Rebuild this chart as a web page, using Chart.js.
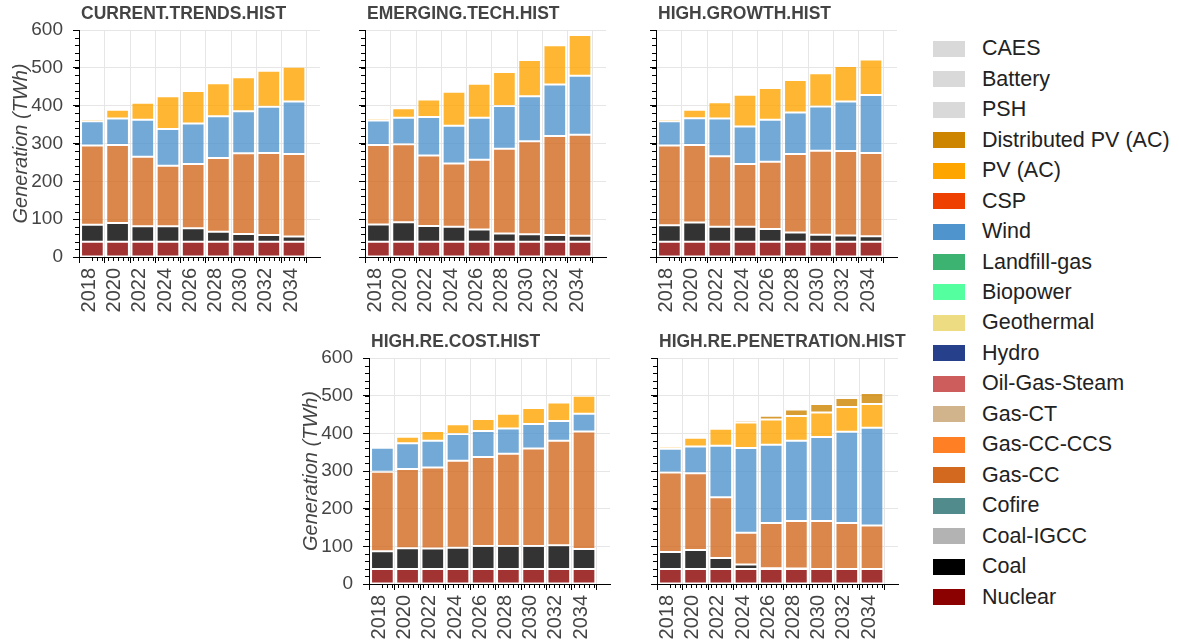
<!DOCTYPE html>
<html>
<head>
<meta charset="utf-8">
<script src="https://cdn.jsdelivr.net/npm/chart.js@4/dist/chart.umd.min.js"></script>
<style>
  body { margin: 0; background: #fff; width: 1179px; height: 642px; position: relative; overflow: hidden;
         font-family: "Liberation Sans", Arial, sans-serif; }
  canvas { position: absolute; }
  #legend { position: absolute; left: 933px; top: 33.5px; }
  .item { height: 30.47px; display: flex; align-items: center; font-size: 21.5px; color: #222; white-space: nowrap; }
  .sw { width: 32px; height: 16px; margin-right: 17px; }
</style>
</head>
<body>
<div id="legend"></div>
<script>
// years shown on every panel
const years = [2018, 2020, 2022, 2024, 2026, 2028, 2030, 2032, 2034];

// legend order (top to bottom) and colours
const techNames = ['CAES', 'Battery', 'PSH', 'Distributed PV (AC)', 'PV (AC)', 'CSP', 'Wind', 'Landfill-gas',
  'Biopower', 'Geothermal', 'Hydro', 'Oil-Gas-Steam', 'Gas-CT', 'Gas-CC-CCS', 'Gas-CC', 'Cofire', 'Coal-IGCC', 'Coal', 'Nuclear'];
const techColors = ['#d9d9d9', '#d9d9d9', '#d9d9d9', '#cd8500', '#ffa500', '#ee4000', '#4f94cd', '#3cb371',
  '#54ff9f', '#eedc82', '#27408b', '#cd5c5c', '#d2b48c', '#ff7f24', '#d2691e', '#528b8b', '#b3b3b3', '#000000', '#8b0000'];

// generation, TWh
const ctNuclear = [40, 40, 40, 40, 40, 40, 40, 40, 40];
const ctCoal    = [45, 50, 41, 41, 36, 27, 21, 18, 14];
const ctGasCC   = [210, 206, 184, 160, 170, 195, 213, 217, 218];
const ctWind    = [64, 70, 98, 97, 107, 110, 111, 122, 139];
const ctPV      = [6, 23, 45, 87, 86, 87, 90, 95, 92];

const etNuclear = [40, 40, 40, 40, 40, 40, 40, 40, 40];
const etCoal    = [46, 52, 42, 40, 33, 22, 20, 18, 16];
const etGasCC   = [210, 206, 186, 167, 184, 224, 246, 262, 267];
const etWind    = [65, 70, 102, 100, 111, 113, 119, 136, 156];
const etPV      = [6, 25, 46, 90, 90, 90, 96, 104, 108];

const hgNuclear = [40, 40, 40, 40, 40, 40, 40, 40, 40];
const hgCoal    = [44, 51, 40, 40, 34, 25, 19, 17, 15];
const hgGasCC   = [211, 205, 186, 166, 178, 207, 222, 223, 220];
const hgWind    = [64, 71, 100, 99, 111, 110, 117, 131, 153];
const hgPV      = [6, 22, 43, 84, 84, 86, 88, 94, 94];
const hgDistPV  = [0, 0, 0, 0, 0, 1, 2, 2, 2];

const rcNuclear = [40, 40, 40, 40, 40, 40, 40, 40, 40];
const rcCoal    = [47, 55, 54, 56, 61, 61, 61, 63, 53];
const rcGasCC   = [211, 210, 215, 231, 236, 245, 259, 277, 312];
const rcWind    = [64, 69, 71, 71, 69, 67, 65, 53, 47];
const rcPV      = [5, 17, 26, 26, 32, 39, 42, 49, 48];

const rpNuclear = [40, 40, 40, 40, 40, 40, 40, 40, 40];
const rpCoal    = [45, 50, 29, 12, 2, 1, 0, 0, 0];
const rpGasCC   = [211, 204, 161, 84, 120, 126, 127, 122, 115];
const rpWind    = [63, 71, 137, 225, 208, 213, 223, 242, 260];
const rpPV      = [6, 23, 45, 68, 67, 66, 65, 66, 63];
const rpDistPV  = [0, 1, 3, 6, 10, 17, 23, 24, 29];

const scenarios = [
  { title: 'CURRENT.TRENDS.HIST', series: { 'Nuclear': ctNuclear, 'Coal': ctCoal, 'Gas-CC': ctGasCC, 'Wind': ctWind, 'PV (AC)': ctPV } },
  { title: 'EMERGING.TECH.HIST', series: { 'Nuclear': etNuclear, 'Coal': etCoal, 'Gas-CC': etGasCC, 'Wind': etWind, 'PV (AC)': etPV } },
  { title: 'HIGH.GROWTH.HIST', series: { 'Nuclear': hgNuclear, 'Coal': hgCoal, 'Gas-CC': hgGasCC, 'Wind': hgWind, 'PV (AC)': hgPV, 'Distributed PV (AC)': hgDistPV } },
  { title: 'HIGH.RE.COST.HIST', series: { 'Nuclear': rcNuclear, 'Coal': rcCoal, 'Gas-CC': rcGasCC, 'Wind': rcWind, 'PV (AC)': rcPV } },
  { title: 'HIGH.RE.PENETRATION.HIST', series: { 'Nuclear': rpNuclear, 'Coal': rpCoal, 'Gas-CC': rpGasCC, 'Wind': rpWind, 'PV (AC)': rpPV, 'Distributed PV (AC)': rpDistPV } }
];

// where each panel's plot area sits on the page
const layout = [
  { left: 79,  top: 0,   padTop: 30, plotH: 227, xH: 63, yLabels: true },
  { left: 365, top: 0,   padTop: 30, plotH: 227, xH: 63, yLabels: false },
  { left: 656, top: 0,   padTop: 30, plotH: 227, xH: 63, yLabels: false },
  { left: 369, top: 320, padTop: 38, plotH: 226, xH: 58, yLabels: true },
  { left: 657, top: 320, padTop: 38, plotH: 226, xH: 58, yLabels: false }
];
const plotW = 241;
const padRight = 8;

const FONT = '"Liberation Sans", Arial, sans-serif';

const hexToRgba = (hex, a) => {
  const n = parseInt(hex.slice(1), 16);
  return `rgba(${(n >> 16) & 255},${(n >> 8) & 255},${n & 255},${a})`;
};
const colorOf = name => techColors[techNames.indexOf(name)];

// panel title at the left edge of the plot area
const panelTitle = {
  id: 'panelTitle',
  afterDraw(chart, args, opts) {
    const { ctx, chartArea } = chart;
    ctx.save();
    ctx.font = `bold 17.5px ${FONT}`;
    ctx.fillStyle = '#444';
    ctx.textBaseline = 'middle';
    ctx.fillText(opts.text, chartArea.left + 2, chartArea.top - 16);
    ctx.restore();
  }
};

// small minor ticks like the original plotting tool draws
const minorTicks = {
  id: 'minorTicks',
  afterDraw(chart) {
    const { ctx, chartArea: a, scales: { x, y } } = chart;
    ctx.save();
    ctx.strokeStyle = '#000';
    ctx.lineWidth = 1;
    ctx.beginPath();
    for (let i = 0; x.min + i * 0.4 <= x.max + 1e-6; i++) {
      const px = Math.round(x.getPixelForValue(x.min + i * 0.4)) + 0.5;
      ctx.moveTo(px, a.bottom);
      ctx.lineTo(px, a.bottom + 4);
    }
    for (let v = y.min; v <= y.max; v += 20) {
      const py = Math.round(y.getPixelForValue(v)) + 0.5;
      ctx.moveTo(a.left, py);
      ctx.lineTo(a.left - 4, py);
    }
    ctx.stroke();
    ctx.restore();
  }
};

scenarios.forEach((sc, idx) => {
  const L = layout[idx];
  const yW = L.yLabels ? 79 : 14;
  const W = yW + plotW + padRight;
  const H = L.padTop + L.plotH + L.xH;

  const canvas = document.createElement('canvas');
  canvas.width = W;
  canvas.height = H;
  canvas.style.left = (L.left - yW) + 'px';
  canvas.style.top = L.top + 'px';
  canvas.style.width = W + 'px';
  canvas.style.height = H + 'px';
  document.body.appendChild(canvas);

  // bottom of the stack first (reverse legend order)
  const stackOrder = techNames.slice().reverse().filter(n => sc.series[n]);
  const datasets = stackOrder.map(name => ({
    label: name,
    data: years.map((yr, i) => ({ x: yr, y: sc.series[name][i] })),
    backgroundColor: hexToRgba(colorOf(name), 0.8),
    borderColor: 'rgba(255,255,255,0.3)',
    borderWidth: 1,
    borderSkipped: false,
    barPercentage: 0.9,
    categoryPercentage: 1
  }));

  new Chart(canvas.getContext('2d'), {
    type: 'bar',
    data: { datasets },
    plugins: [panelTitle, minorTicks],
    options: {
      responsive: false,
      animation: false,
      layout: { padding: { top: L.padTop, right: padRight, left: 0, bottom: 0 } },
      plugins: {
        legend: { display: false },
        tooltip: { enabled: false },
        panelTitle: { text: sc.title }
      },
      scales: {
        x: {
          type: 'linear',
          stacked: true,
          min: 2018,
          max: 2035,
          grid: { color: '#e6e6e6', tickColor: '#000', tickLength: 6 },
          border: { color: '#000', width: 1 },
          ticks: {
            stepSize: 2,
            includeBounds: false,
            autoSkip: false,
            maxRotation: 90,
            minRotation: 90,
            padding: 5,
            labelOffset: -3,
            color: '#444',
            font: { family: FONT, size: 20 },
            callback: v => String(v)
          },
          afterFit: s => { s.height = L.xH; s.paddingLeft = 0; s.paddingRight = 0; }
        },
        y: {
          stacked: true,
          min: 0,
          max: 600,
          grid: { color: '#e6e6e6', tickColor: '#000', tickLength: 6 },
          border: { color: '#000', width: 1 },
          ticks: {
            stepSize: 100,
            padding: 10,
            color: '#444',
            font: { family: FONT, size: 19 },
            callback: v => L.yLabels ? String(v) : ''
          },
          title: {
            display: L.yLabels,
            text: 'Generation (TWh)',
            color: '#444',
            padding: { top: 9, bottom: 0 },
            font: { family: FONT, size: 20, style: 'italic' }
          },
          afterFit: s => { s.width = yW; }
        }
      }
    }
  });
});

// legend
const legend = document.getElementById('legend');
techNames.forEach((name, i) => {
  const row = document.createElement('div');
  row.className = 'item';
  const sw = document.createElement('span');
  sw.className = 'sw';
  sw.style.background = techColors[i];
  const label = document.createElement('span');
  label.textContent = name;
  row.appendChild(sw);
  row.appendChild(label);
  legend.appendChild(row);
});
</script>
</body>
</html>
